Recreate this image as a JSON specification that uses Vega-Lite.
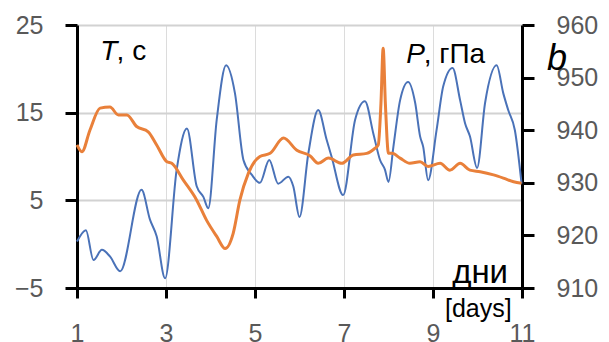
{
  "$schema": "https://vega.github.io/schema/vega-lite/v6.json",
  "width": 445,
  "height": 263,
  "autosize": {"type": "none"},
  "padding": {"left": 77, "top": 25, "right": 87, "bottom": 54},
  "background": "white",
  "config": {
    "view": {"stroke": null},
    "axis": {
      "labelFont": "Liberation Sans",
      "labelFontSize": 25,
      "labelColor": "#595959",
      "domainColor": "black",
      "domainWidth": 3,
      "tickColor": "black",
      "tickWidth": 3,
      "labelOverlap": false,
      "labelFlush": false,
      "title": null
    },
    "text": {"font": "Liberation Sans", "color": "black"}
  },
  "datasets": {
    "temp": [
      {"day": 1.00, "T": 0.3}, {"day": 1.20, "T": 1.6}, {"day": 1.37, "T": -1.8}, {"day": 1.56, "T": -0.65},
      {"day": 1.74, "T": -1.4}, {"day": 1.97, "T": -3.1}, {"day": 2.45, "T": 6.2}, {"day": 2.64, "T": 2.8},
      {"day": 2.79, "T": 0.9}, {"day": 2.98, "T": -3.9}, {"day": 3.24, "T": 8.5}, {"day": 3.47, "T": 13.2},
      {"day": 3.69, "T": 6.6}, {"day": 3.84, "T": 5.4}, {"day": 3.95, "T": 4.1}, {"day": 4.14, "T": 14.2},
      {"day": 4.35, "T": 20.4}, {"day": 4.55, "T": 17.2}, {"day": 4.74, "T": 9.6}, {"day": 4.93, "T": 7.9},
      {"day": 5.11, "T": 7.0}, {"day": 5.32, "T": 9.6}, {"day": 5.52, "T": 6.9}, {"day": 5.75, "T": 7.7},
      {"day": 5.86, "T": 6.6}, {"day": 6.00, "T": 3.1}, {"day": 6.20, "T": 10.4}, {"day": 6.42, "T": 15.3},
      {"day": 6.61, "T": 11.9}, {"day": 6.72, "T": 10.0}, {"day": 6.98, "T": 5.6}, {"day": 7.25, "T": 14.2},
      {"day": 7.47, "T": 16.3}, {"day": 7.66, "T": 12.6}, {"day": 7.81, "T": 9.6}, {"day": 7.92, "T": 8.5},
      {"day": 8.00, "T": 7.1}, {"day": 8.11, "T": 11.1}, {"day": 8.26, "T": 16.4}, {"day": 8.44, "T": 18.5},
      {"day": 8.60, "T": 16.1}, {"day": 8.71, "T": 12.3}, {"day": 8.78, "T": 11.1}, {"day": 8.89, "T": 7.3},
      {"day": 9.08, "T": 13.0}, {"day": 9.23, "T": 18.0}, {"day": 9.44, "T": 20.1}, {"day": 9.61, "T": 16.4},
      {"day": 9.72, "T": 13.8}, {"day": 9.83, "T": 12.3}, {"day": 9.99, "T": 8.7}, {"day": 10.17, "T": 16.1},
      {"day": 10.43, "T": 20.4}, {"day": 10.58, "T": 17.2}, {"day": 10.69, "T": 15.3}, {"day": 10.84, "T": 13.0},
      {"day": 10.99, "T": 6.9}
    ],
    "pres": [
      {"day": 1.00, "P": 937.2}, {"day": 1.11, "P": 935.9}, {"day": 1.29, "P": 940.0}, {"day": 1.52, "P": 944.2},
      {"day": 1.74, "P": 944.4}, {"day": 1.93, "P": 942.9}, {"day": 2.12, "P": 942.9}, {"day": 2.34, "P": 940.7},
      {"day": 2.60, "P": 939.7}, {"day": 2.79, "P": 937.2}, {"day": 3.02, "P": 934.0}, {"day": 3.13, "P": 933.7},
      {"day": 3.39, "P": 930.5}, {"day": 3.69, "P": 926.7}, {"day": 3.91, "P": 922.9}, {"day": 4.14, "P": 919.8},
      {"day": 4.33, "P": 917.5}, {"day": 4.51, "P": 920.4}, {"day": 4.66, "P": 926.7}, {"day": 4.85, "P": 931.8},
      {"day": 5.11, "P": 935.0}, {"day": 5.34, "P": 935.6}, {"day": 5.64, "P": 938.5}, {"day": 5.94, "P": 936.2},
      {"day": 6.24, "P": 935.1}, {"day": 6.42, "P": 933.7}, {"day": 6.65, "P": 934.7}, {"day": 6.95, "P": 933.7},
      {"day": 7.21, "P": 935.3}, {"day": 7.51, "P": 935.6}, {"day": 7.70, "P": 936.6}, {"day": 7.77, "P": 937.2},
      {"day": 7.83, "P": 945.0}, {"day": 7.88, "P": 955.6}, {"day": 7.93, "P": 945.0}, {"day": 8.00, "P": 935.6},
      {"day": 8.08, "P": 935.6}, {"day": 8.26, "P": 934.7}, {"day": 8.48, "P": 933.7}, {"day": 8.71, "P": 934.0},
      {"day": 8.89, "P": 933.1}, {"day": 9.16, "P": 933.7}, {"day": 9.38, "P": 932.4}, {"day": 9.61, "P": 933.7},
      {"day": 9.83, "P": 932.4}, {"day": 10.06, "P": 932.1}, {"day": 10.36, "P": 931.5}, {"day": 10.58, "P": 930.9},
      {"day": 10.81, "P": 930.2}, {"day": 10.99, "P": 929.9}
    ]
  },
  "layer": [
    {
      "encoding": {
        "x": {
          "type": "quantitative",
          "scale": {"domain": [1, 11], "nice": false, "zero": false},
          "axis": {
            "values": [1, 3, 5, 7, 9, 11],
            "grid": true,
            "gridColor": "#dcdcdc",
            "gridWidth": 1,
            "tickSize": 10,
            "labelPadding": 23
          }
        },
        "y": {
          "type": "quantitative",
          "scale": {"domain": [-5, 25], "nice": false, "zero": false},
          "axis": {
            "orient": "left",
            "values": [-5, 5, 15, 25],
            "grid": true,
            "gridColor": "#d2d2d2",
            "gridWidth": 2,
            "tickSize": 12,
            "labelPadding": 22
          }
        }
      },
      "layer": [
        {
          "data": {"name": "temp"},
          "mark": {"type": "line", "color": "#4A72B8", "strokeWidth": 2, "interpolate": "monotone"},
          "encoding": {"x": {"field": "day"}, "y": {"field": "T"}}
        },
        {
          "data": {"values": [{}]},
          "mark": {"type": "text", "text": "T", "fontStyle": "italic", "fontSize": 28, "align": "left", "baseline": "alphabetic"},
          "encoding": {"x": {"datum": 1.52}, "y": {"datum": 21.0}}
        },
        {
          "data": {"values": [{}]},
          "mark": {"type": "text", "text": ", с", "fontSize": 28, "align": "left", "baseline": "alphabetic"},
          "encoding": {"x": {"datum": 1.89}, "y": {"datum": 21.0}}
        },
        {
          "data": {"values": [{}]},
          "mark": {"type": "text", "text": "P", "fontStyle": "italic", "fontSize": 28, "align": "left", "baseline": "alphabetic"},
          "encoding": {"x": {"datum": 8.40}, "y": {"datum": 20.67}}
        },
        {
          "data": {"values": [{}]},
          "mark": {"type": "text", "text": ", гПа", "fontSize": 28, "align": "left", "baseline": "alphabetic"},
          "encoding": {"x": {"datum": 8.79}, "y": {"datum": 20.67}}
        },
        {
          "data": {"values": [{}]},
          "mark": {"type": "text", "text": "дни", "fontSize": 33, "align": "left", "baseline": "alphabetic"},
          "encoding": {"x": {"datum": 9.43}, "y": {"datum": -4.42}}
        },
        {
          "data": {"values": [{}]},
          "mark": {"type": "text", "text": "[days]", "fontSize": 25, "align": "left", "baseline": "alphabetic"},
          "encoding": {"x": {"datum": 9.27}, "y": {"datum": -8.31}}
        },
        {
          "data": {"values": [{}]},
          "mark": {"type": "text", "text": "b", "fontStyle": "italic", "fontSize": 36, "align": "left", "baseline": "alphabetic"},
          "encoding": {"x": {"datum": 11.56}, "y": {"datum": 19.87}}
        }
      ]
    },
    {
      "data": {"name": "pres"},
      "mark": {"type": "line", "color": "#E9803A", "strokeWidth": 3, "interpolate": "monotone"},
      "encoding": {
        "x": {"field": "day", "type": "quantitative"},
        "y": {
          "field": "P",
          "type": "quantitative",
          "scale": {"domain": [910, 960], "nice": false, "zero": false},
          "axis": {
            "orient": "right",
            "values": [910, 920, 930, 940, 950, 960],
            "grid": false,
            "tickSize": 12,
            "labelPadding": 22
          }
        }
      }
    }
  ],
  "resolve": {"scale": {"y": "independent"}, "axis": {"y": "independent"}}
}
